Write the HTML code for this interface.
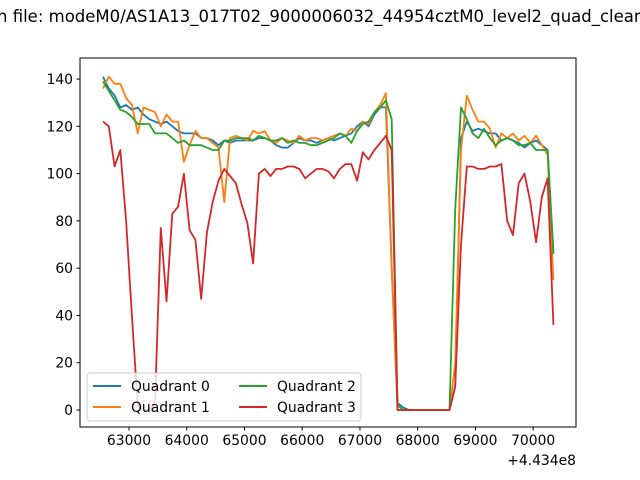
<!DOCTYPE html>
<html><head><meta charset="utf-8"><style>
body{margin:0;background:#fff;}
svg{display:block;font-family:"DejaVu Sans","Liberation Sans",sans-serif;}
</style></head><body>
<svg id="chart" width="640" height="480" viewBox="0 0 640 480">
<rect width="640" height="480" fill="#fff"/>
<text x="-3" y="22" font-size="16.5" fill="#000">n file: modeM0/AS1A13_017T02_9000006032_44954cztM0_level2_quad_clean</text>
<g id="series"></g>
<g id="axes"></g>
<rect x="80" y="58" width="496" height="369" fill="none" stroke="#000" stroke-width="1"/>
<text x="576" y="465" font-size="13.9" text-anchor="end">+4.434e8</text>
<g>
<rect x="87" y="373" width="274" height="48" rx="3" fill="#fff" fill-opacity="0.8" stroke="#ccc"/>
<g><line x1="93" y1="386" x2="121" y2="386" stroke="#1f77b4" stroke-width="2"/><text x="131" y="391" font-size="13.9">Quadrant 0</text></g>
<g><line x1="93" y1="407" x2="121" y2="407" stroke="#ff7f0e" stroke-width="2"/><text x="131" y="412" font-size="13.9">Quadrant 1</text></g>
<g><line x1="239" y1="386" x2="267" y2="386" stroke="#2ca02c" stroke-width="2"/><text x="277" y="391" font-size="13.9">Quadrant 2</text></g>
<g><line x1="239" y1="407" x2="267" y2="407" stroke="#d62728" stroke-width="2"/><text x="277" y="412" font-size="13.9">Quadrant 3</text></g>
</g>
</svg>
<script>
const startTime = 62550;
const stepTime = 100;
const q0 = [141,136,133,128,129,127,128,125,123,122,121,122,120,118,117,117,117,115,115,114,112,114,113,114,114,114,114,115,115,114,112,111,111,113,115,114,114,113,114,115,114,115,116,117,120,122,120,125,128,128,60,3,1,0,0,0,0,0,0,0,0,10,115,122,118,119,118,117,117,114,115,114,113,111,113,114,112,110,67];
const q1 = [136,141,138,138,132,129,117,128,127,126,120,125,122,122,105,112,118,115,115,113,111,88,115,116,115,114,118,117,118,114,113,115,114,113,116,114,115,115,114,115,116,117,116,119,118,122,121,126,129,134,60,0,0,0,0,0,0,0,0,0,0,20,110,133,127,122,122,119,111,117,115,117,114,116,113,116,112,108,55];
const q2 = [139,135,131,127,126,124,121,121,121,117,117,117,115,113,114,112,112,112,111,110,110,114,114,115,115,115,114,116,115,114,114,115,113,114,113,113,112,112,113,114,115,117,116,113,118,121,122,126,128,131,123,2,0,0,0,0,0,0,0,0,0,85,128,123,117,115,119,115,112,114,115,114,112,112,113,110,110,110,66];
const q3 = [122,120,103,110,80,40,2,0,0,3,77,46,83,86,100,76,72,47,75,88,97,102,99,96,87,79,62,100,102,99,102,102,103,103,102,98,100,102,102,101,98,102,104,104,97,109,106,110,113,116,110,0,0,0,0,0,0,0,0,0,0,10,70,103,103,102,102,103,103,104,80,74,96,100,88,71,90,98,36];
const xTicks = [63000,64000,65000,66000,67000,68000,69000,70000];
const yTicks = [0,20,40,60,80,100,120,140];

const xs = t => 129 + (t - 63000) * 0.05774;
const ys = v => 410 - v * 2.364;
const NS = "http://www.w3.org/2000/svg";
const seriesG = document.getElementById('series');
const axesG = document.getElementById('axes');
[[q0,'#1f77b4','series-quadrant-0'],[q1,'#ff7f0e','series-quadrant-1'],[q2,'#2ca02c','series-quadrant-2'],[q3,'#d62728','series-quadrant-3']].forEach(([arr,col,name])=>{
  const p = document.createElementNS(NS,'polyline');
  p.setAttribute('points', arr.map((v,i)=>xs(startTime+i*stepTime).toFixed(1)+','+ys(v).toFixed(1)).join(' '));
  p.setAttribute('fill','none');p.setAttribute('stroke',col);p.setAttribute('stroke-width','1.8');p.setAttribute('stroke-linejoin','round');
  
  
  seriesG.appendChild(p);
});
xTicks.forEach(t=>{
  const x = xs(t);
  const l = document.createElementNS(NS,'line');
  l.setAttribute('x1',x);l.setAttribute('x2',x);l.setAttribute('y1',427);l.setAttribute('y2',430.5);l.setAttribute('stroke','#000');
  
  
  axesG.appendChild(l);
  const tx = document.createElementNS(NS,'text');
  tx.setAttribute('x',x);tx.setAttribute('y',445);tx.setAttribute('font-size','13.9');tx.setAttribute('text-anchor','middle');
  tx.textContent = t;
  
  
  axesG.appendChild(tx);
});
yTicks.forEach(v=>{
  const y = ys(v);
  const l = document.createElementNS(NS,'line');
  l.setAttribute('x1',76.5);l.setAttribute('x2',80);l.setAttribute('y1',y);l.setAttribute('y2',y);l.setAttribute('stroke','#000');
  
  
  axesG.appendChild(l);
  const tx = document.createElementNS(NS,'text');
  tx.setAttribute('x',73);tx.setAttribute('y',y+5);tx.setAttribute('font-size','13.9');tx.setAttribute('text-anchor','end');
  tx.textContent = v;
  
  
  axesG.appendChild(tx);
});
</script>
</body></html>
